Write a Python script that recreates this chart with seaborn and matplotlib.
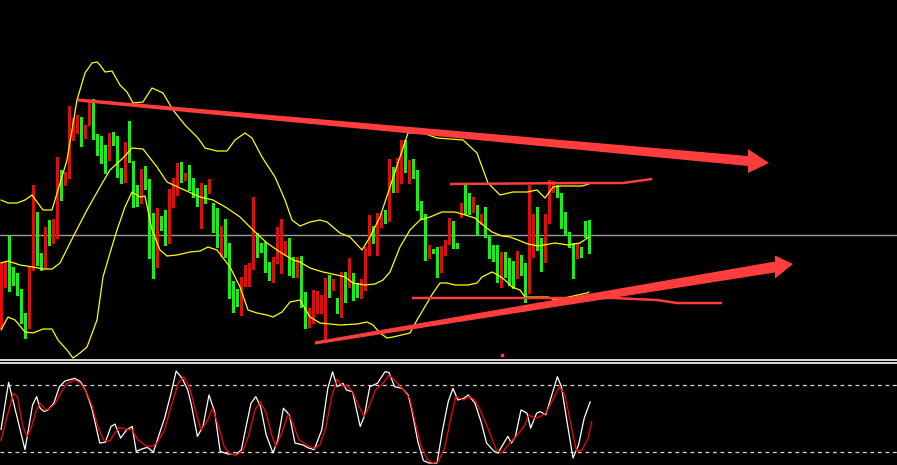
import numpy as np
import matplotlib
matplotlib.use("Agg")
import matplotlib.pyplot as plt
import seaborn as sns
from matplotlib.patches import Polygon

# ---------------- data (bar index = position on x axis) ----------------
opens = [33, 92, 95, 91, 87, 67, 42, 37, 92, 142, 100, 92, 131, 123, 124, 188, 181, 185, 235, 235,
         240, 223, 237, 242, 226, 224, 215, 208, 223, 217, 191, 184, 217, 199, 174, 158, 184, 181, 122, 95,
         140, 136, 124, 167, 168, 187, 181, 183, 180, 168, 162, 173, 168, 151, 145, 120, 125, 117, 77, 65,
         62, 77, 81, 91, 127, 117, 114, 92, 85, 98, 107, 116, 118, 97, 92, 104, 67, 41, 43, 53,
         56, 55, 80, 75, 59, 57, 86, 75, 87, 73, 67, 72, 107, 133, 117, 135, 146, 140, 191, 171,
         182, 219, 191, 193, 185, 156, 146, 109, 111, 108, 90, 108, 118, 138, 116, 144, 154, 152, 148, 154,
         138, 144, 125, 110, 108, 89, 108, 88, 88, 83, 105, 94, 70, 105, 145, 120, 99, 138, 171, 172,
         166, 136, 128, 116, 105, 112, 136, 136]
highs = [98, 98, 124, 93, 87, 71, 47, 93, 175, 148, 107, 133, 140, 141, 203, 190, 188, 254, 242, 245,
         243, 235, 260, 261, 226, 224, 215, 227, 228, 224, 192, 218, 239, 199, 175, 191, 194, 181, 147, 152,
         144, 150, 171, 182, 197, 198, 187, 195, 182, 172, 177, 175, 181, 157, 152, 134, 141, 117, 79, 71,
         83, 95, 97, 163, 127, 117, 118, 98, 103, 133, 141, 119, 122, 103, 103, 104, 68, 52, 70, 69,
         65, 82, 85, 81, 62, 88, 88, 102, 87, 77, 81, 113, 145, 134, 147, 147, 150, 201, 193, 202,
         220, 220, 200, 201, 190, 159, 146, 115, 111, 113, 114, 120, 142, 139, 117, 157, 175, 167, 163, 155,
         146, 153, 125, 115, 115, 108, 108, 102, 99, 109, 105, 97, 175, 146, 153, 122, 146, 180, 179, 175,
         167, 148, 128, 117, 117, 113, 139, 140]
lows = [32, 73, 69, 75, 65, 37, 22, 32, 90, 95, 90, 92, 115, 117, 122, 160, 175, 182, 220, 227,
        214, 222, 235, 221, 205, 197, 187, 200, 215, 183, 177, 178, 198, 153, 154, 157, 171, 102, 82, 93,
        130, 115, 117, 153, 165, 178, 180, 170, 163, 154, 132, 157, 167, 128, 113, 104, 103, 62, 48, 54,
        45, 74, 74, 91, 103, 108, 88, 80, 78, 97, 87, 105, 85, 83, 83, 53, 32, 33, 37, 47,
        47, 20, 63, 70, 47, 43, 58, 73, 60, 63, 62, 70, 105, 117, 105, 133, 137, 139, 168, 168,
        177, 188, 177, 182, 150, 141, 100, 102, 107, 83, 88, 105, 116, 112, 112, 143, 146, 146, 148, 125,
        136, 123, 102, 99, 78, 73, 83, 75, 72, 82, 85, 58, 67, 103, 110, 89, 98, 137, 168, 163,
        132, 125, 113, 82, 102, 103, 123, 107]
closes = [97, 98, 90, 77, 67, 42, 37, 92, 142, 98, 95, 131, 124, 127, 188, 180, 187, 235, 242, 240,
          223, 234, 242, 225, 223, 215, 207, 223, 217, 191, 183, 217, 208, 174, 158, 184, 181, 122, 95, 140,
          135, 124, 168, 169, 187, 181, 183, 179, 168, 162, 173, 168, 179, 144, 120, 125, 116, 76, 63, 63,
          78, 82, 92, 127, 116, 113, 91, 85, 99, 108, 117, 118, 97, 92, 102, 67, 41, 44, 53, 57,
          57, 81, 76, 79, 57, 85, 73, 87, 73, 67, 72, 109, 133, 126, 135, 146, 140, 191, 170, 183,
          219, 191, 193, 184, 155, 145, 109, 112, 107, 90, 108, 119, 138, 118, 113, 154, 150, 148, 154, 138,
          144, 130, 109, 107, 89, 108, 88, 86, 85, 105, 93, 70, 106, 145, 120, 99, 138, 171, 173, 165,
          135, 128, 115, 105, 112, 104, 134, 123]

# Bollinger bands (bar position, level)
bb_upper_bar = [0, 1.75, 4, 6, 7.75, 10.5, 12.75, 16.5, 19, 21, 22.75, 24, 24.75, 26, 27.75, 29.75, 31.5, 33,
                35.5, 37.75, 40.5, 43, 46, 49.25, 51, 54, 56.5, 58.5, 61, 62.75, 65.25, 68.5, 71, 72.75,
                74.75, 77.25, 79.75, 81.5, 84.75, 87.25, 90.25, 92.25, 94.75, 97.25, 99.75, 101.75, 104.75,
                109, 115.5, 119, 121.75, 124.75, 128, 131.5, 134, 136, 138, 139.75, 145.25, 147]
bb_upper = [160, 157, 157, 160, 165, 150, 150, 200, 260, 287, 297, 298, 295, 288, 289, 275, 268, 257,
            258, 272, 267, 250, 235, 222, 212, 209, 209, 220, 227, 222, 203, 183, 160, 140,
            134, 138, 140, 138, 127, 123, 110, 123, 143, 173, 203, 227, 228,
            222, 220, 207, 177, 165, 168, 168, 170, 162, 173, 174, 174, 176]
bb_mid_bar = [0, 1.75, 4.75, 8, 10.5, 12.75, 14.75, 18, 21.5, 24.75, 27.25, 30.5, 32.75, 35.5, 39, 41.5,
              44.75, 49.75, 53, 56.5, 59.75, 63, 66.5, 69.75, 73, 74.75, 77.25, 80.5, 84, 86, 88, 91, 93.5,
              95.5, 97.25, 99.75, 102.25, 104.75, 107.25, 110.25, 113.5, 115.25, 118.5, 120.5, 122.75,
              125.25, 127.25, 129.25, 131.75, 134.25, 138.5, 141.75, 144.75, 147]
bb_mid = [97, 99, 95, 93, 91, 91, 97, 123, 150, 173, 190, 202, 212, 211, 193, 178,
          172, 163, 160, 152, 143, 130, 117, 108, 100, 98, 92, 88, 85, 83, 77, 75, 76,
          80, 88, 113, 130, 140, 143, 148, 148, 146, 142, 135, 128,
          124, 123, 120, 116, 114, 117, 115, 117, 123]
bb_lower_bar = [0, 1.75, 3.5, 6, 8, 10.5, 12.75, 14.25, 16.5, 18, 19.75, 21.5, 24, 25.5, 27.25, 29, 31,
                32.75, 34.75, 36, 37.75, 39.75, 41.5, 44, 47.25, 49.75, 51.75, 54, 57.25, 59.75, 61.75, 64,
                66.5, 68, 70.25, 72.25, 74.75, 77.25, 79.75, 84.75, 89, 91.5, 93, 94.75, 96.5, 98, 102.25,
                104, 105.5, 108, 109.75, 111.5, 113.5, 116.75, 119, 120.25, 122.75, 124.25, 126, 127.75,
                129.75, 131, 136.75, 138.5, 146.5, 147]
bb_lower = [30, 43, 40, 28, 27, 31, 31, 20, 10, 2, 7, 13, 40, 83, 107, 130, 153,
            168, 163, 164, 130, 110, 104, 105, 108, 109, 113, 110, 93, 73, 50, 47,
            45, 43, 48, 58, 60, 43, 37, 35, 36, 38, 35, 27, 22, 23, 27,
            40, 50, 67, 77, 77, 75, 75, 77, 83, 88, 85, 80, 73,
            70, 63, 63, 60, 67, 68]

# Stochastic oscillator (%K white, %D red)
stoch_k_bar = [0, 1.9, 6.0, 7.9, 8.9, 9.8, 10.8, 11.7, 13.2, 14.6, 16.0, 18.4, 19.9, 21.3, 22.7, 24.7, 26.1,
               27.5, 28.5, 29.9, 31.4, 32.8, 33.8, 35.2, 36.6, 38.1, 39.5, 40.9, 42.4, 43.8, 45.3, 46.7,
               47.6, 49.1, 50.5, 52.0, 53.4, 54.8, 56.7, 58.7, 60.1, 61.1, 62.5, 63.7, 64.9, 66.3, 68.0,
               69.2, 70.6, 72.1, 73.5, 75.4, 76.9, 78.3, 80.2, 81.7, 82.9, 84.0, 85.5, 86.4, 87.9, 89.8,
               90.8, 92.2, 94.1, 96.0, 97.0, 98.4, 100.3, 101.8, 102.7, 104.2, 105.6, 107.0, 109.0, 110.4,
               111.8, 113.0, 114.2, 115.7, 116.8, 118.5, 120.0, 121.4, 123.3, 124.3, 125.2, 126.7, 127.6,
               128.6, 130.0, 131.5, 132.4, 133.9, 134.8, 136.2, 137.7, 139.1, 140.1, 141.5, 143.0, 144.4,
               145.8, 147.3]
stoch_k = [40, 82.4, 22.1, 62.2, 69.6, 59.2, 56.2, 57.7, 63.7, 78.5, 83.6, 86, 83, 74, 59.2, 28, 28.9,
           42.9, 45, 32.5, 39.9, 42.9, 20.6, 22.7, 24.2, 20, 35.4, 50.3, 71.1, 92.5, 85.9, 75.5,
           62.2, 34, 42.9, 71.1, 56.2, 20.6, 18.2, 17.6, 22.1, 39.9, 63.7, 69.6, 60.7, 35.4, 19.1,
           30.9, 59.2, 53.3, 28, 26.5, 23.6, 22.1, 39.9, 77, 91.9, 78.5, 81.5, 75.5, 74, 42.9,
           51.8, 78.5, 81.5, 91.9, 91.3, 78.5, 77, 71.1, 57.7, 29.5, 12.3, 10.2, 10.2, 39.9,
           65.1, 77, 66.6, 68.1, 71.1, 63.7, 47.3, 28, 20.6, 19.1, 25, 34, 28,
           34, 57.7, 54.8, 41.4, 54.8, 56.2, 53.3, 71.1, 87.5, 78.5, 47.3, 14.7, 26.5,
           50.3, 65.1]
stoch_d_bar = [0, 1.2, 3.1, 4.1, 5.5, 6.5, 7.4, 8.9, 9.8, 11.2, 12.2, 13.6, 15.1, 16.5, 18.4, 19.9, 21.3,
               22.7, 24.2, 25.6, 27.1, 28.5, 29.4, 30.9, 32.8, 34.2, 36.2, 37.6, 39.0, 40.9, 42.4, 44.3,
               45.7, 47.2, 48.6, 50.0, 51.5, 52.9, 54.4, 55.8, 57.2, 59.1, 60.6, 62.0, 63.5, 64.9, 66.3,
               67.8, 68.7, 70.2, 71.8, 73.0, 74.5, 76.4, 78.3, 79.7, 81.2, 82.6, 84.0, 85.5, 86.4, 87.9,
               89.3, 90.8, 92.2, 93.6, 95.5, 97.0, 98.4, 100.3, 102.2, 103.7, 105.1, 106.6, 108.0, 109.4,
               110.9, 112.3, 113.7, 115.7, 117.1, 118.5, 120.0, 121.9, 123.8, 125.2, 126.2, 127.6, 129.1,
               131.0, 131.9, 133.4, 134.8, 136.2, 137.7, 139.6, 141.0, 142.5, 143.9, 145.3, 146.8, 147.7]
stoch_d = [30.1, 47.3, 72.6, 69.6, 42.9, 34, 39.9, 57.7, 63.7, 57.7, 59.2, 63.7, 74, 81.5, 84.5, 81.5, 74,
           62.2, 42.9, 31, 29.5, 36.9, 42, 40.8, 39.9, 31, 25.9, 25, 28, 39.9, 59.2, 81.5,
           87.4, 77, 57.7, 39.9, 47.3, 59.2, 42.9, 25, 18.2, 17.6, 22.1, 35.4, 57.7, 65.1, 54.8,
           34, 25, 36.9, 53.9, 45.8, 31, 26.5, 23, 26.5, 41.4, 68.1, 85.3, 78.5, 80, 74,
           62.2, 51.8, 62.2, 75.5, 81.5, 88.9, 84.5, 77, 68.1, 44.4, 25, 13.2, 10.2, 11.7,
           23.6, 47.3, 69.6, 66.6, 69.6, 66.6, 56.2, 39.9, 22.1, 19.1, 23.6, 29.5, 35.4,
           44.4, 53.3, 50.3, 51.8, 54.8, 65.1, 78.5, 71.1, 44.4, 20.6, 22.1, 32.5, 47.3]
stoch_levels = [80, 20]

# hand-drawn annotations (bar position, level)
current_level = 125
top_arrow_bar = [19.25, 186.75, 192.0]
top_arrow_lvl = [260, 199, 197]
bottom_arrow_bar = [78.5, 193.5, 198.0]
bottom_arrow_lvl = [17, 93, 96]
resist_bar = [112.25, 144.75, 155.5, 162.75]
resist_lvl = [176, 177, 177, 181]
support_bar = [102.75, 153, 164, 169, 180.25]
support_lvl = [62, 62, 60, 57, 57]
marker_bar = [125.25]
marker_lvl = [5]

# ---------------- drawing ----------------
sns.set_theme(style="dark")
plt.rcParams["font.family"] = ["DejaVu Sans"]

W, H = 897, 465
fig = plt.figure(figsize=(W / 100, H / 100), dpi=100, facecolor="black")
main_h = 359
ax = fig.add_axes([0, (H - main_h) / H, 1, main_h / H])
ax2 = fig.add_axes([0, 0, 1, (H - main_h) / H])
for a in (ax, ax2):
    a.set_facecolor("black")
    a.set_xticks([]); a.set_yticks([])
    for s in a.spines.values():
        s.set_visible(False)
    a.grid(False)

XMIN, XMAX = -0.25, 224.0

# current price line
ax.axhline(current_level, color="#9c9c9c", lw=1.0, zorder=1)

# candles
idx = np.arange(len(opens))
o = np.array(opens, float); c = np.array(closes, float)
hi = np.array(highs, float); lo = np.array(lows, float)
colors = np.where(c >= o, "#ff0000", "#00ff00")
ax.vlines(idx, lo, hi, colors=colors, lw=0.9, zorder=3, antialiased=False)
ax.bar(idx, np.maximum(np.abs(c - o), 1.5), bottom=np.minimum(o, c), width=0.7,
       color=colors, linewidth=0, zorder=4, antialiased=False)

# Bollinger bands
for bx, by in ((bb_upper_bar, bb_upper), (bb_mid_bar, bb_mid), (bb_lower_bar, bb_lower)):
    sns.lineplot(x=bx, y=by, ax=ax, color="#ffff00", lw=0.9, estimator=None, sort=False,
                 legend=False, zorder=5)

# annotations
def tapered_arrow(a, bx, by, w0, w1, wh, color="#ff3d3d"):
    x0, x1, x2 = bx
    y0, y1, y2 = by
    pts = [(x0, y0 + w0), (x1, y1 + w1), (x1, y1 + wh), (x2, y2),
           (x1, y1 - wh), (x1, y1 - w1), (x0, y0 - w0)]
    a.add_patch(Polygon(pts, closed=True, facecolor=color, edgecolor="none", zorder=10))

tapered_arrow(ax, top_arrow_bar, top_arrow_lvl, 1.6, 5.0, 12.0)
tapered_arrow(ax, bottom_arrow_bar, bottom_arrow_lvl, 1.6, 5.5, 11.5)
ax.plot(resist_bar, resist_lvl, color="#ff3d3d", lw=1.8, zorder=9, solid_capstyle="butt")
ax.plot(support_bar, support_lvl, color="#ff3d3d", lw=1.8, zorder=9, solid_capstyle="butt")
ax.plot(marker_bar, marker_lvl, ls="none", marker="s", ms=2, color="#ff3d3d", zorder=9)

ax.set_xlim(XMIN, XMAX)
ax.set_ylim(1, 360)

# stochastic panel
for lv in stoch_levels:
    ax2.axhline(lv, color="#d8d8d8", lw=0.9, ls=(0, (3, 3)), zorder=1)
ax2.axhline(102.4, color="white", lw=1.2, zorder=2)
ax2.axhline(99.7, color="white", lw=1.2, zorder=2)
sns.lineplot(x=stoch_k_bar, y=stoch_k, ax=ax2, color="white", lw=0.9, estimator=None, sort=False,
             legend=False, zorder=3)
sns.lineplot(x=stoch_d_bar, y=stoch_d, ax=ax2, color="#ff0000", lw=0.9, estimator=None, sort=False,
             legend=False, zorder=4)
ax2.set_xlim(XMIN, XMAX)
ax2.set_ylim(8.4, 103.3)
for a in (ax, ax2):
    a.set_xlabel(""); a.set_ylabel("")

fig.savefig("out.png", dpi=100, facecolor="black")
